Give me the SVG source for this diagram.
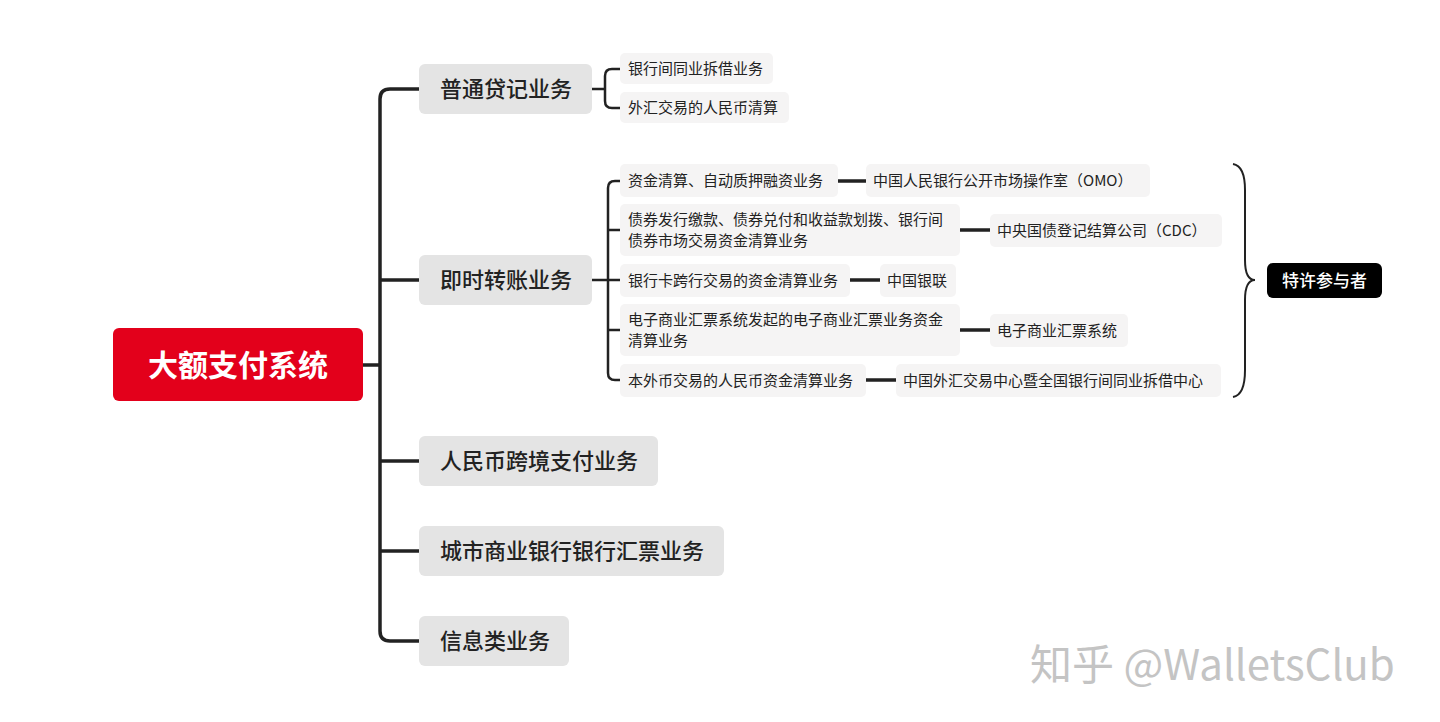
<svg xmlns="http://www.w3.org/2000/svg" width="1440" height="722" viewBox="0 0 1440 722">
<style>
text{font-family:"Noto Sans CJK SC","Noto Sans",sans-serif;fill:#222}
.l1{fill:#e4e4e4}
.l2{fill:#f5f4f4}
.t1{font-size:22px;font-weight:500}
.t2{font-size:15px}
.c{fill:none;stroke:#222;stroke-width:3.5;stroke-linecap:round;stroke-linejoin:round}
.c2{fill:none;stroke:#222;stroke-width:2.5}
</style>
<rect width="1440" height="722" fill="#fff"/>
<g id="connectors">
<path class="c" d="M363 365H380M420 89H390Q380 89 380 99V631Q380 641 390 641H420M380 280H420M380 461H420M380 551H420"/>
<path class="c2" d="M592 89H604M620 69H612Q605 69 605 76V101Q605 108 612 108H620"/>
<path class="c2" d="M592 280H620M620 181H615Q608 181 608 188V373Q608 380 615 380H620M608 230H620M608 330H620"/>
<path class="c" d="M838 181H866M960 230H990M850 280H880M960 330H990M866 380H896"/>
<path fill="none" stroke="#222" stroke-width="2" d="M1233 164Q1245 166 1245 190V260Q1245 280 1255 280Q1245 280 1245 300V370Q1245 395 1233 397"/>
</g>
<g id="root"><rect x="113" y="328" width="250" height="73" rx="6" fill="#e3001b"/><text x="238" y="376" text-anchor="middle" font-size="30" font-weight="bold" style="fill:#fff">大额支付系统</text></g>
<g id="n1"><rect class="l1" x="419" y="64" width="173" height="50" rx="6"/><text class="t1" x="440" y="97">普通贷记业务</text></g>
<g id="n2"><rect class="l1" x="419" y="255" width="173" height="50" rx="6"/><text class="t1" x="440" y="288">即时转账业务</text></g>
<g id="n3"><rect class="l1" x="419" y="436" width="239" height="50" rx="6"/><text class="t1" x="440" y="469">人民币跨境支付业务</text></g>
<g id="n4"><rect class="l1" x="419" y="526" width="305" height="50" rx="6"/><text class="t1" x="440" y="559">城市商业银行银行汇票业务</text></g>
<g id="n5"><rect class="l1" x="419" y="616" width="150" height="50" rx="6"/><text class="t1" x="440" y="649">信息类业务</text></g>
<g id="a1"><rect class="l2" x="620" y="53" width="153" height="31" rx="5"/><text class="t2" x="628" y="74">银行间同业拆借业务</text></g>
<g id="a2"><rect class="l2" x="620" y="92" width="169" height="31" rx="5"/><text class="t2" x="628" y="113">外汇交易的人民币清算</text></g>
<g id="b1"><rect class="l2" x="620" y="164" width="218" height="33" rx="5"/><text class="t2" x="628" y="186">资金清算、自动质押融资业务</text></g>
<g id="b1r"><rect class="l2" x="866" y="164" width="284" height="33" rx="5"/><text class="t2" x="873" y="186">中国人民银行公开市场操作室（OMO）</text></g>
<g id="b2"><rect class="l2" x="620" y="204" width="340" height="52" rx="5"/><text class="t2" x="628" y="225">债券发行缴款、债券兑付和收益款划拨、银行间</text><text class="t2" x="628" y="246">债券市场交易资金清算业务</text></g>
<g id="b2r"><rect class="l2" x="990" y="214" width="232" height="33" rx="5"/><text class="t2" x="997" y="236">中央国债登记结算公司（CDC）</text></g>
<g id="b3"><rect class="l2" x="620" y="264" width="230" height="33" rx="5"/><text class="t2" x="628" y="286">银行卡跨行交易的资金清算业务</text></g>
<g id="b3r"><rect class="l2" x="880" y="264" width="76" height="33" rx="5"/><text class="t2" x="887" y="286">中国银联</text></g>
<g id="b4"><rect class="l2" x="620" y="304" width="340" height="52" rx="5"/><text class="t2" x="628" y="325">电子商业汇票系统发起的电子商业汇票业务资金</text><text class="t2" x="628" y="346">清算业务</text></g>
<g id="b4r"><rect class="l2" x="990" y="314" width="138" height="33" rx="5"/><text class="t2" x="997" y="336">电子商业汇票系统</text></g>
<g id="b5"><rect class="l2" x="620" y="364" width="246" height="33" rx="5"/><text class="t2" x="628" y="386">本外币交易的人民币资金清算业务</text></g>
<g id="b5r"><rect class="l2" x="896" y="364" width="325" height="33" rx="5"/><text class="t2" x="903" y="386">中国外汇交易中心暨全国银行间同业拆借中心</text></g>
<g id="c1"><rect x="1267" y="263" width="115" height="35" rx="6" fill="#000"/><text x="1324.5" y="287" text-anchor="middle" font-size="17" font-weight="500" style="fill:#fff">特许参与者</text></g>
<text x="1030" y="680" font-size="42" style="fill:#c4c4c4">知乎 @WalletsClub</text>
</svg>
